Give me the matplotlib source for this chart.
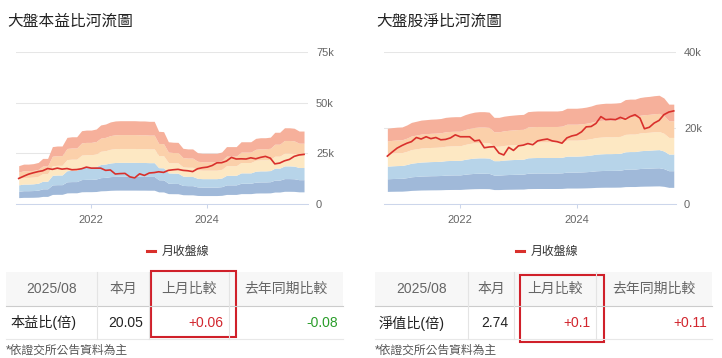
import pandas as pd
import matplotlib.pyplot as plt
from matplotlib.lines import Line2D
from matplotlib.patches import Rectangle

plt.rcParams['font.family'] = ['Liberation Sans', 'Noto Sans CJK TC']

# 月資料 (千點)
months = pd.date_range('2020-10-01', periods=60, freq='MS')
close_k = [12.6, 13.7, 14.7, 15.4, 16.0, 16.4, 17.5, 17.1, 17.7, 17.2,
           17.5, 16.9, 17.0, 17.4, 18.2, 17.7, 17.7, 17.7, 16.6, 16.8,
           14.8, 15.0, 15.1, 13.4, 12.9, 14.9, 14.1, 15.3, 15.5, 15.9,
           15.6, 16.6, 16.9, 17.1, 16.6, 16.4, 16.0, 17.4, 17.9, 18.2,
           19.0, 20.3, 20.4, 21.2, 23.0, 22.2, 22.3, 22.2, 22.8, 22.3,
           23.0, 23.5, 22.6, 19.8, 20.2, 21.3, 22.0, 23.5, 24.2, 24.5]
# 河流圖每一級的間距 (千點)
pe_unit_k = [3.15, 3.28, 3.28, 3.32, 3.42, 3.75, 3.75, 4.72, 4.77, 4.77,
             5.48, 5.53, 5.53, 6.03, 6.08, 6.08, 6.17, 6.50, 6.58, 6.75,
             6.83, 6.85, 6.85, 6.85, 6.85, 6.83, 6.83, 6.80, 6.80, 5.98,
             5.95, 5.12, 5.08, 5.07, 4.58, 4.53, 4.53, 4.22, 4.17, 4.17,
             4.17, 4.17, 4.28, 4.72, 4.72, 4.72, 5.12, 5.12, 5.12, 5.40,
             5.45, 5.45, 5.50, 5.90, 5.90, 6.27, 6.27, 6.23, 6.00, 6.00]
pb_unit_k = [3.32, 3.35, 3.37, 3.38, 3.47, 3.58, 3.63, 3.68, 3.70, 3.72,
             3.73, 3.75, 3.80, 3.82, 3.83, 3.83, 3.92, 3.98, 4.03, 4.05,
             4.05, 4.03, 3.80, 3.80, 3.85, 3.88, 3.90, 3.92, 3.93, 4.05,
             4.07, 4.08, 4.08, 4.08, 4.08, 4.08, 4.10, 4.20, 4.20, 4.20,
             4.22, 4.25, 4.30, 4.37, 4.40, 4.42, 4.42, 4.43, 4.45, 4.58,
             4.60, 4.60, 4.67, 4.70, 4.72, 4.75, 4.77, 4.65, 4.38, 4.38]
band_mult = [1, 2, 3, 4, 5, 6]
band_colors = ['#a0b9d9', '#b7d4e9', '#fde8c3', '#fbd0aa', '#f6b09b']

titles = ['大盤本益比河流圖', '大盤股淨比河流圖']
units = [pe_unit_k, pb_unit_k]
y_max = [75, 40]
y_step = [25, 20]
legend_label = '月收盤線'

table_month = '2025/08'
table_cols = ['本月', '上月比較', '去年同期比較']
row_names = ['本益比(倍)', '淨值比(倍)']
row_now = ['20.05', '2.74']
row_mom = ['+0.06', '+0.1']
row_yoy = ['-0.08', '+0.11']
yoy_colors = ['#2a9d2a', '#d2262e']
footnote = '*依證交所公告資料為主'

red = '#d9302c'
W, H = 722, 358

fig = plt.figure(figsize=(W / 100, H / 100), dpi=100)
ov = fig.add_axes([0, 0, 1, 1])
ov.set_xlim(0, W)
ov.set_ylim(H, 0)
ov.axis('off')

# 版面 (像素)
plot_x = [16, 384]
title_x = [7, 376]
legend_cx = [178, 547]
col_edges = [[6, 97, 149, 229, 343], [375, 468, 514, 596, 712]]
red_boxes = [(151, 271, 236, 337), (520, 275, 604, 342)]
xlims = [(pd.Timestamp('2020-09-14'), pd.Timestamp('2025-09-26')),
         (pd.Timestamp('2020-09-10'), pd.Timestamp('2025-09-15'))]

for p in range(2):
    ax = fig.add_axes([plot_x[p] / W, (H - 204) / H, 292 / W, 152 / H])
    unit = pd.Series(units[p], index=months)
    levels = [unit * m for m in band_mult]
    for k in range(5):
        ax.fill_between(months, levels[k], levels[k + 1],
                        color=band_colors[k], lw=0)
    ax.plot(months, close_k, color=red, lw=1.2)

    ax.set_ylim(0, y_max[p])
    ax.set_xlim(*xlims[p])
    yt = list(range(0, y_max[p] + 1, y_step[p]))
    ax.set_yticks(yt)
    ax.set_yticklabels([f'{v}k' if v else '0' for v in yt])
    ax.yaxis.tick_right()
    ax.tick_params(axis='y', length=0, pad=5.8, labelsize=8, labelcolor='#666666')
    ax.set_xticks([pd.Timestamp('2022-01-01'), pd.Timestamp('2024-01-01')])
    ax.set_xticklabels(['2022', '2024'])
    ax.tick_params(axis='x', length=3, width=0.75, color='#ccd6eb', pad=5,
                   labelsize=8, labelcolor='#666666')
    ax.grid(axis='y', color='#e6e6e6', lw=0.75)
    ax.set_axisbelow(True)
    for s in ['top', 'left', 'right']:
        ax.spines[s].set_visible(False)
    ax.spines['bottom'].set_color('#ccd6eb')
    ax.spines['bottom'].set_linewidth(0.75)

    ov.text(title_x[p], 21, titles[p], fontsize=11.3, color='#222222', va='center')

    ax.legend(handles=[Line2D([], [], color=red, lw=2.2)], labels=[legend_label],
              loc='center', bbox_to_anchor=(legend_cx[p], 252),
              bbox_transform=ov.transData, frameon=False, handlelength=0.7,
              handletextpad=0.5, fontsize=8.6, labelcolor='#333333')

    # 表格
    ce = col_edges[p]
    ov.add_patch(Rectangle((ce[0], 272), ce[-1] - ce[0], 34, color='#f7f7f7', lw=0))
    ov.plot([ce[0], ce[-1]], [306, 306], color='#cccccc', lw=0.8)
    ov.plot([ce[0], ce[-1]], [339, 339], color='#e8e8e8', lw=0.8)
    for x in ce[1:-1]:
        ov.plot([x, x], [272, 339], color='#e4e4e4', lw=0.8)
    heads = [table_month] + table_cols
    for c in range(4):
        ov.text((ce[c] + ce[c + 1]) / 2, 289, heads[c], fontsize=10,
                color='#666666', ha='center', va='center')
    ov.text(ce[0] + 4, 323, row_names[p], fontsize=10.2, color='#222222', va='center')
    ov.text(ce[2] - 6, 323, row_now[p], fontsize=10, color='#222222',
            ha='right', va='center')
    ov.text(ce[3] - 6, 323, row_mom[p], fontsize=10, color='#d2262e',
            ha='right', va='center')
    ov.text(ce[4] - 5, 323, row_yoy[p], fontsize=10, color=yoy_colors[p],
            ha='right', va='center')
    x0, y0, x1, y1 = red_boxes[p]
    ov.add_patch(Rectangle((x0, y0), x1 - x0, y1 - y0, fill=False,
                           edgecolor='#d0202a', lw=1.5))
    ov.text(ce[0], 351, footnote, fontsize=8.5, color='#555555', va='center')

fig.savefig('out.png', dpi=100)
